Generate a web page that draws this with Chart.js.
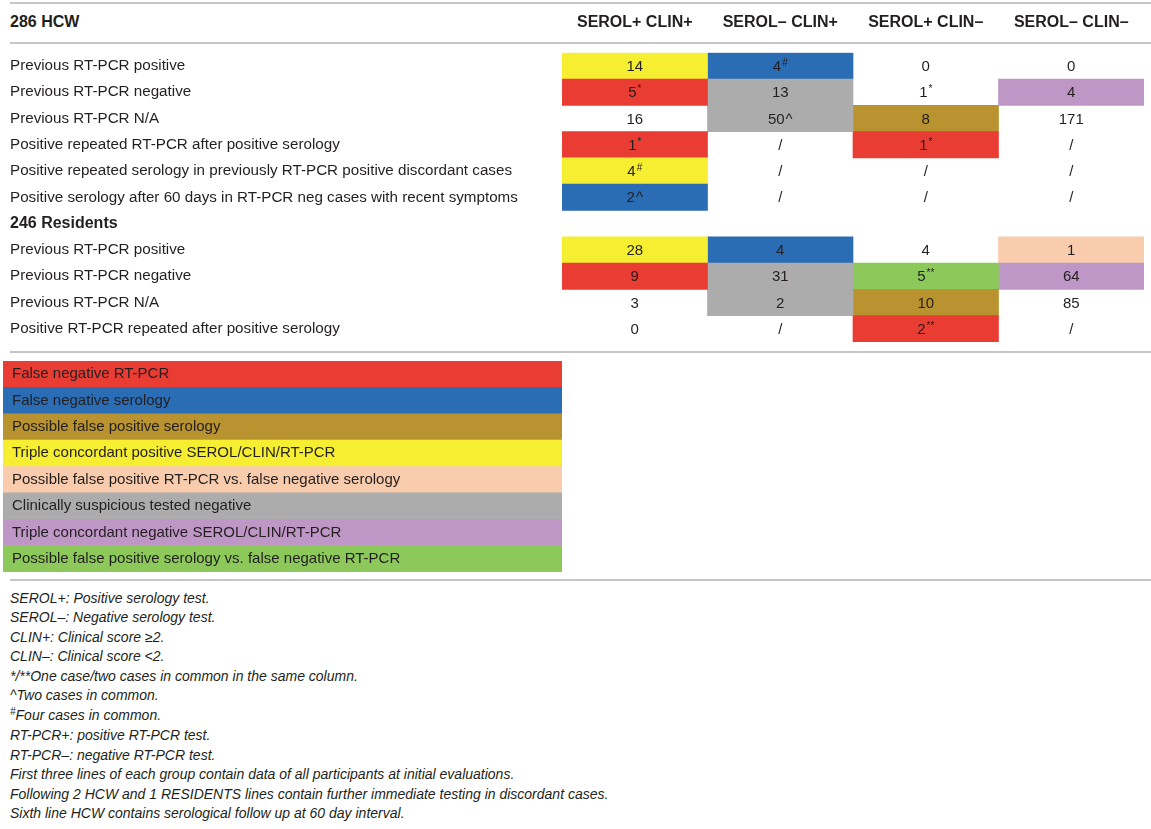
<!DOCTYPE html>
<html>
<head>
<meta charset="utf-8">
<script src="https://cdn.jsdelivr.net/npm/chart.js@4.4.1/dist/chart.umd.min.js"></script>
<style>
  body { margin: 0; background: #fff; font-family: "Liberation Sans", Arial, sans-serif; color: #231f20; }
  #page { position: relative; width: 1151px; height: 829px; overflow: hidden; }
  .rule { position: absolute; left: 10px; right: 0; height: 2px; background: #c6c6c6; }
  #groupHead { position: absolute; left: 10px; top: 12px; font-size: 16px; font-weight: bold; line-height: 20px; }
  #tableBox { position: absolute; left: 0; top: 0; width: 1151px; height: 342px; }
  #legendBox { position: absolute; left: 3px; top: 361px; width: 559px; height: 211px; }
  #notes { position: absolute; left: 10px; top: 589px; font-size: 14px; font-style: italic; line-height: 19.45px; }
  #notes .sup { font-size: 10px; position: relative; top: -5px; }
</style>
</head>
<body>
<div id="page">
  <div class="rule" style="top:2px"></div>
  <div id="groupHead">286 HCW</div>
  <div class="rule" style="top:42px"></div>
  <div id="tableBox"><canvas id="tableChart"></canvas></div>
  <div class="rule" style="top:351px"></div>
  <div id="legendBox"><canvas id="legendChart"></canvas></div>
  <div class="rule" style="top:579px"></div>
  <div id="notes">
    <div>SEROL+: Positive serology test.</div>
    <div>SEROL–: Negative serology test.</div>
    <div>CLIN+: Clinical score ≥2.</div>
    <div>CLIN–: Clinical score &lt;2.</div>
    <div>*/**One case/two cases in common in the same column.</div>
    <div>^Two cases in common.</div>
    <div><span class="sup">#</span>Four cases in common.</div>
    <div>RT-PCR+: positive RT-PCR test.</div>
    <div>RT-PCR–: negative RT-PCR test.</div>
    <div>First three lines of each group contain data of all participants at initial evaluations.</div>
    <div>Following 2 HCW and 1 RESIDENTS lines contain further immediate testing in discordant cases.</div>
    <div>Sixth line HCW contains serological follow up at 60 day interval.</div>
  </div>
</div>
<script>
// 열 / 행
const columns = ["SEROL+ CLIN+", "SEROL– CLIN+", "SEROL+ CLIN–", "SEROL– CLIN–"];
const rowLabels = [
  "Previous RT-PCR positive",
  "Previous RT-PCR negative",
  "Previous RT-PCR N/A",
  "Positive repeated RT-PCR after positive serology",
  "Positive repeated serology in previously RT-PCR positive discordant cases",
  "Positive serology after 60 days in RT-PCR neg cases with recent symptoms",
  "246 Residents",
  "Previous RT-PCR positive",
  "Previous RT-PCR negative",
  "Previous RT-PCR N/A",
  "Positive RT-PCR repeated after positive serology"
];

// 셀 값 (열별)
const serolPosClinPos = ["14", "5*", "16", "1*", "4#", "2^", "", "28", "9", "3", "0"];
const serolNegClinPos = ["4#", "13", "50^", "/", "/", "/", "", "4", "31", "2", "/"];
const serolPosClinNeg = ["0", "1*", "8", "1*", "/", "/", "", "4", "5**", "10", "2**"];
const serolNegClinNeg = ["0", "4", "171", "/", "/", "/", "", "1", "64", "85", "/"];

// 셀 분류 (legend 인덱스, -1 = 색 없음)
const classPosPos = [3, 0, -1, 0, 3, 1, -1, 3, 0, -1, -1];
const classNegPos = [1, 5, 5, -1, -1, -1, -1, 1, 5, 5, -1];
const classPosNeg = [-1, -1, 2, 0, -1, -1, -1, -1, 7, 2, 0];
const classNegNeg = [-1, 6, -1, -1, -1, -1, -1, 4, 6, -1, -1];

// 범례
const legendLabels = [
  "False negative RT-PCR",
  "False negative serology",
  "Possible false positive serology",
  "Triple concordant positive SEROL/CLIN/RT-PCR",
  "Possible false positive RT-PCR vs. false negative serology",
  "Clinically suspicious tested negative",
  "Triple concordant negative SEROL/CLIN/RT-PCR",
  "Possible false positive serology vs. false negative RT-PCR"
];
const legendColors = ["#e93d33", "#2a6db5", "#b9932f", "#f6ee31", "#f8ccac", "#abacab", "#bf97c7", "#8dc95a"];

const cellValues = [serolPosClinPos, serolNegClinPos, serolPosClinNeg, serolNegClinNeg];
const cellClasses = [classPosPos, classNegPos, classPosNeg, classNegNeg];

const FONT = '"Liberation Sans", Arial, sans-serif';
const INK = "#231f20";

// 세로축 위아래 여백 없애기
const noPad = (axis, width) => {
  axis.width = width;
  axis.paddingTop = 0;
  axis.paddingBottom = 0;
};

// 셀 안의 숫자 그리기
const cellText = {
  id: "cellText",
  afterDatasetsDraw(chart) {
    const { ctx, scales: { x, y } } = chart;
    ctx.save();
    ctx.fillStyle = INK;
    ctx.textBaseline = "middle";
    ctx.textAlign = "left";
    cellValues.forEach((col, c) => {
      const cx = x.getPixelForValue(c + 0.5);
      col.forEach((txt, r) => {
        if (!txt) return;
        const cy = y.getPixelForValue(r);
        const m = txt.match(/^([^*#^]*)(.*)$/);
        const main = m[1], mark = m[2];
        const small = mark === "^" ? "15px " + FONT : "10px " + FONT;
        ctx.font = "15px " + FONT;
        const w1 = ctx.measureText(main).width;
        ctx.font = small;
        const w2 = mark ? ctx.measureText(mark).width + 1 : 0;
        const sx = cx - (w1 + w2) / 2;
        ctx.font = "15px " + FONT;
        ctx.fillText(main, sx, cy + 1);
        if (mark) {
          ctx.font = small;
          ctx.fillText(mark, sx + w1 + 1, mark === "^" ? cy + 1 : cy - 3);
        }
      });
    });
    ctx.restore();
  }
};

new Chart(document.getElementById("tableChart"), {
  type: "bar",
  data: {
    labels: rowLabels,
    datasets: columns.map((name, c) => ({
      label: name,
      data: cellClasses[c].map(k => (k >= 0 ? [c, c + 1] : null)),
      backgroundColor: cellClasses[c].map(k => (k >= 0 ? legendColors[k] : "transparent")),
      borderWidth: 0,
      barPercentage: 1,
      categoryPercentage: 1,
      grouped: false
    }))
  },
  options: {
    indexAxis: "y",
    responsive: true,
    maintainAspectRatio: false,
    animation: false,
    layout: { padding: { left: 10, right: 7, top: 0, bottom: 0 } },
    plugins: { legend: { display: false }, tooltip: { enabled: false } },
    scales: {
      x: {
        type: "linear",
        position: "top",
        min: 0,
        max: 4,
        grid: { display: false, drawTicks: false },
        border: { display: false },
        afterBuildTicks: (axis) => { axis.ticks = columns.map((_, i) => ({ value: i + 0.5 })); },
        afterFit: (axis) => { axis.height = 52.7; },
        ticks: {
          padding: 21,
          color: INK,
          maxRotation: 0,
          autoSkip: false,
          font: { family: FONT, size: 16, weight: "bold" },
          callback: (v) => columns[Math.floor(v)]
        }
      },
      y: {
        grid: { display: false, drawTicks: false },
        border: { display: false },
        afterFit: (axis) => noPad(axis, 552),
        ticks: {
          crossAlign: "far",
          autoSkip: false,
          padding: 0,
          color: INK,
          font: (ctx) => (ctx.index === 6
            ? { family: FONT, size: 16, weight: "bold" }
            : { family: FONT, size: 15.2 })
        }
      }
    }
  },
  plugins: [cellText]
});

new Chart(document.getElementById("legendChart"), {
  type: "bar",
  data: {
    labels: legendLabels,
    datasets: [{
      data: legendLabels.map(() => [0, 1]),
      backgroundColor: legendColors,
      borderWidth: 0,
      barPercentage: 1,
      categoryPercentage: 1
    }]
  },
  options: {
    indexAxis: "y",
    responsive: true,
    maintainAspectRatio: false,
    animation: false,
    layout: { padding: 0 },
    plugins: { legend: { display: false }, tooltip: { enabled: false } },
    scales: {
      x: { display: false, min: 0, max: 1 },
      y: {
        grid: { display: false, drawTicks: false },
        border: { display: false },
        afterFit: (axis) => noPad(axis, 0),
        ticks: { mirror: true, padding: 9, z: 1, color: INK, font: { family: FONT, size: 15 } }
      }
    }
  }
});
</script>
</body>
</html>
